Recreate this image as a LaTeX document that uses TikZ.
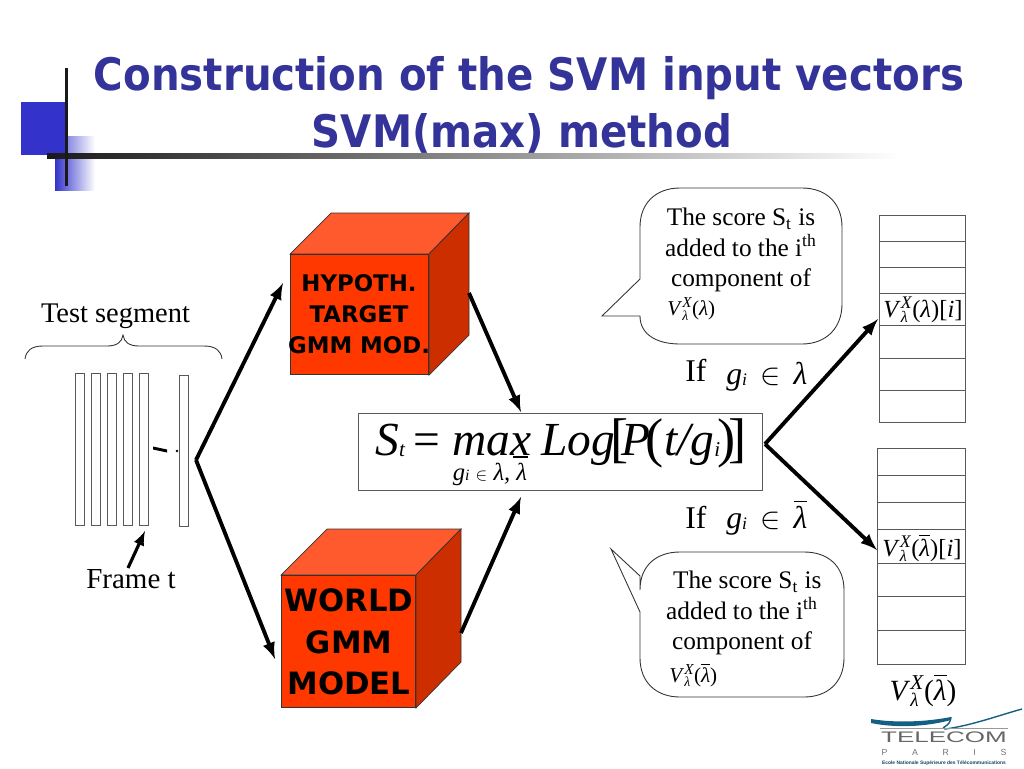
\documentclass[tikz,border=0pt]{standalone}
\usepackage{amsmath}
\usepackage{fontspec}
\setmainfont{Liberation Serif}
\newfontfamily\titlefont{DejaVu Sans}
\newfontfamily\logofont{Liberation Sans}
\usetikzlibrary{calc}
\usetikzlibrary{decorations.pathreplacing}
\definecolor{titleblue}{RGB}{51,51,153}
\definecolor{squareblue}{RGB}{51,51,204}
\definecolor{cubefront}{RGB}{255,56,0}
\definecolor{cubetop}{RGB}{255,90,45}
\definecolor{cubeside}{RGB}{204,46,0}
\definecolor{logoblue}{RGB}{20,95,130}
\newcommand{\lamb}{\textit{λ}}
\newcommand{\lambbar}{\ensuremath{\overline{\mbox{\textit{λ}}}}}
\newcommand{\vlam}[1]{\textit{V}\rlap{\raisebox{-0.22em}{\scalebox{.65}{\textit{λ}}}}\raisebox{0.36em}{\scalebox{.72}{\textit{X}}}(#1)}
\newcommand{\subt}[1]{\raisebox{-1pt}{\fontsize{12}{14}\selectfont #1}}
\newcommand{\bigbr}[1]{\raisebox{-1pt}{\fontsize{31}{31}\selectfont\upshape #1}}
\tikzset{
	txt/.style={font=\fontsize{16.2}{19}\selectfont, inner sep=0pt},
	bubbletxt/.style={font=\fontsize{14.4}{17.4}\selectfont, align=center, inner sep=0pt},
	cubetxt/.style={font=\titlefont\bfseries, align=center, inner sep=0pt},
	bigarrow/.style={-latex, line width=2.2pt},
	cell/.style={draw=black!65, line width=0.5pt},
	titletxt/.style={font=\titlefont\bfseries\fontsize{25.5}{31}\selectfont, text=titleblue, align=center, inner sep=0pt, xscale=0.9},
	formulatxt/.style={inner sep=0pt, anchor=base west, font=\fontsize{27}{30}\selectfont\itshape},
	condtxt/.style={inner sep=0pt, anchor=base west, font=\fontsize{18}{20}\selectfont\itshape}
}
\begin{document}
\begin{tikzpicture}[x=0.02cm, y=-0.02cm]
	\useasboundingbox (0,0) rectangle (1024,768);
	% corner decoration
	\fill[squareblue] (21,102) rectangle (66,155);
	\fill[left color=squareblue, right color=white] (55,155) rectangle (95,190);
	\fill[left color=squareblue!60, right color=white] (66,136) rectangle (95,155);
	\shade[left color=black!90, right color=white] (47,153) rectangle (900,158);
	\fill[black!90] (64.5,68) rectangle (67.5,186);
	% title
	\node[titletxt] (title1) at (529,78) {Construction of the SVM input vectors};
	\node[titletxt] (title2) at (522,133) {SVM(max) method};
	% frames
	\foreach \x in {75, 91, 107, 123, 139}{
		\draw[cell] (\x,373) rectangle ++(9,152);
	}
	\node[draw=black!65, line width=0.5pt, minimum width=5.1pt, minimum height=86.2pt, inner sep=0pt] (lastframe) at (183.5,451) {};
	\fill (153,446.5) -- (167,449.5) -- (167,452.5) -- (153,449.5) -- cycle;
	\fill (177,451) circle (1.4);
	\node[txt] (testseg) at (115.5,316) {Test segment};
	\coordinate (braceL) at (25,359);
	\coordinate (braceR) at (222,359);
	\draw[black!80, line width=0.5pt] (braceL) .. controls (26,351) and (31,346) .. (43,346) -- (107,346) .. controls (117,346) and (122,342) .. (123,335) .. controls (124,342) and (129,346) .. (139,346) -- (204,346) .. controls (216,346) and (221,351) .. (braceR);
	\node[txt, font=\fontsize{16.5}{19}\selectfont] (framet) at (131,579) {Frame t};
	\coordinate (framefrom) at (128,568);
	\coordinate (frameto) at (145,531);
	\draw[-latex, line width=1.8pt] (framefrom) -- (frameto);
	% cubes
	\fill[cubetop, draw=black!80, line width=0.4pt] (290,254) -- (331,213) -- (469,213) -- (429,254) -- cycle;
	\fill[cubeside, draw=black!80, line width=0.4pt] (429,254) -- (469,213) -- (469,335) -- (429,375) -- cycle;
	\node[fill=cubefront, draw=black!80, line width=0.4pt, minimum width=78.8pt, minimum height=68.6pt, inner sep=0pt] (target) at (359.5,314.5) {};
	\node[cubetxt, font=\titlefont\bfseries\fontsize{13}{17.6}\selectfont] (targettxt) at (359,314) {HYPOTH.\\TARGET\\GMM MOD.};
	\fill[cubetop, draw=black!80, line width=0.4pt] (281,575) -- (327,529) -- (461,529) -- (416,575) -- cycle;
	\fill[cubeside, draw=black!80, line width=0.4pt] (416,575) -- (461,529) -- (461,662) -- (416,708) -- cycle;
	\node[fill=cubefront, draw=black!80, line width=0.4pt, minimum width=76.5pt, minimum height=75.4pt, inner sep=0pt] (world) at (348.5,641.5) {};
	\node[cubetxt, font=\titlefont\bfseries\fontsize{17.5}{23.5}\selectfont] (worldtxt) at (349,642) {WORLD\\GMM\\MODEL};
	% score formula
	\node[draw=black!65, line width=0.5pt, minimum width=229.6pt, minimum height=44.2pt, inner sep=0pt] (score) at (560.5,452) {};
	\node[formulatxt] (formS) at (375,455) {S\subt{t}};
	\node[formulatxt, font=\fontsize{27}{30}\selectfont] (formeq) at (413,455) {=};
	\node[formulatxt] (formmax) at (452,455) {max};
	\draw[line width=0.6pt] (513,457) -- (528,457);
	\node[formulatxt] (formlog) at (541,455) {Log};
	\node[formulatxt] (formP) at (610,455) {\bigbr{[}\hspace{-4pt}P\hspace{-3pt}\bigbr{(}};
	\node[formulatxt] (formt) at (664,455) {t/g\subt{i}};
	\node[formulatxt] (formend) at (717,455) {\bigbr{)}\hspace{-4pt}\bigbr{]}};
	\node[inner sep=0pt, font=\fontsize{14}{15}\selectfont\itshape] (under) at (490,474) {g\raisebox{-0.5pt}{\fontsize{9}{10}\selectfont i} \ensuremath{\scriptstyle\in} λ, λ};
	% arrows
	\coordinate (fork) at (196,460);
	\coordinate (targetin) at (283,283);
	\coordinate (worldin) at (275,659);
	\draw[bigarrow] (fork) -- (targetin);
	\draw[bigarrow] (fork) -- (worldin);
	\coordinate (targetout) at (469,293);
	\coordinate (worldout) at (461,633);
	\coordinate (scoretop) at (521,412);
	\coordinate (scorebot) at (521,497);
	\draw[bigarrow] (targetout) -- (scoretop);
	\draw[bigarrow] (worldout) -- (scorebot);
	\coordinate (fork2) at (765,444);
	\coordinate (vec1in) at (878,319);
	\coordinate (vec2in) at (877,550);
	\draw[bigarrow] (fork2) -- (vec1in);
	\draw[bigarrow] (fork2) -- (vec2in);
	% conditions
	\node[condtxt] (if1) at (685,381) {\upshape If};
	\node[condtxt] (cond1) at (726,384) {g\raisebox{-1pt}{\fontsize{10}{11}\selectfont i} \,\ensuremath{\in}\, λ};
	\node[condtxt] (if2) at (685,528) {\upshape If};
	\node[condtxt] (cond2) at (726,528) {g\raisebox{-1pt}{\fontsize{10}{11}\selectfont i} \,\ensuremath{\in}\, \lambbar};
	% bubbles
	\draw[black!80, line width=0.5pt, fill=white] (640,227) .. controls (640,203) and (656,188) .. (680,188) -- (802,188) .. controls (826,188) and (842,203) .. (842,227) -- (842,304) .. controls (842,328) and (826,344) .. (802,344) -- (680,344) .. controls (656,344) and (640,334) .. (640,316) -- (602,316) -- (640,279) -- cycle;
	\node[bubbletxt] (bubble1) at (741,250) {The score S\textsubscript{t} is\\added to the i\textsuperscript{th}\\component of};
	\node[txt, anchor=west, font=\fontsize{12}{14}\selectfont] (bubble1v) at (667,309) {\vlam{\lamb}};
	\draw[black!80, line width=0.5pt, fill=white] (640,590) .. controls (640,566) and (656,552) .. (680,552) -- (804,552) .. controls (828,552) and (844,566) .. (844,590) -- (844,658) .. controls (844,682) and (828,697) .. (804,697) -- (680,697) .. controls (656,697) and (640,682) .. (640,658) -- (640,612) -- (611,549) -- (640,576) -- cycle;
	\node[bubbletxt] (bubble2) at (742,613) {\hspace*{6pt}The score S\textsubscript{t} is\\added to the i\textsuperscript{th}\\component of};
	\node[txt, anchor=west, font=\fontsize{12}{14}\selectfont] (bubble2v) at (669,675) {\vlam{\lambbar}};
	% vectors
	\draw[cell] (879,215) rectangle (965,422);
	\foreach \y in {241, 267, 293, 325, 358, 390}{
		\draw[cell] (879,\y) -- (965,\y);
	}
	\draw[cell] (877,448) rectangle (965,664);
	\foreach \y in {475, 502, 529, 563, 596, 630}{
		\draw[cell] (877,\y) -- (965,\y);
	}
	\node[txt, font=\fontsize{14}{16}\selectfont] (vec1lab) at (923,310) {\vlam{\lamb}[\textit{i}]};
	\node[txt, font=\fontsize{14}{16}\selectfont] (vec2lab) at (922,548) {\vlam{\lambbar}[\textit{i}]};
	\node[txt, font=\fontsize{16.7}{18}\selectfont] (vec2name) at (923,690) {\vlam{\lambbar}};
	% logo
	\fill[logoblue] (871,719) .. controls (895,723) and (925,722) .. (951,717) -- (951,720) .. controls (925,727) and (895,728) .. (871,723) -- cycle;
	\draw[logoblue, line width=0.8pt] (951,717) .. controls (950,728) and (940,726) .. (945,729) .. controls (970,726) and (1000,715) .. (1022,709);
	\draw[black!40, line width=0.4pt] (880,728) -- (1008,728);
	\node[inner sep=0pt, text=black!60, font=\logofont\fontsize{8.7}{9}\selectfont, xscale=1.7] (logotxt) at (944,737.5) {TELECOM};
	\node[inner sep=0pt, text=black!55, font=\logofont\fontsize{5}{6}\selectfont] (logoparis) at (944,752) {P\hspace{14pt}A\hspace{14pt}R\hspace{14pt}I\hspace{14pt}S};
	\node[inner sep=0pt, text=logoblue!70!black, font=\logofont\bfseries\fontsize{2.8}{3}\selectfont] (logosub) at (944,763) {Ecole Nationale Supérieure des Télécommunications};
\end{tikzpicture}
\end{document}
